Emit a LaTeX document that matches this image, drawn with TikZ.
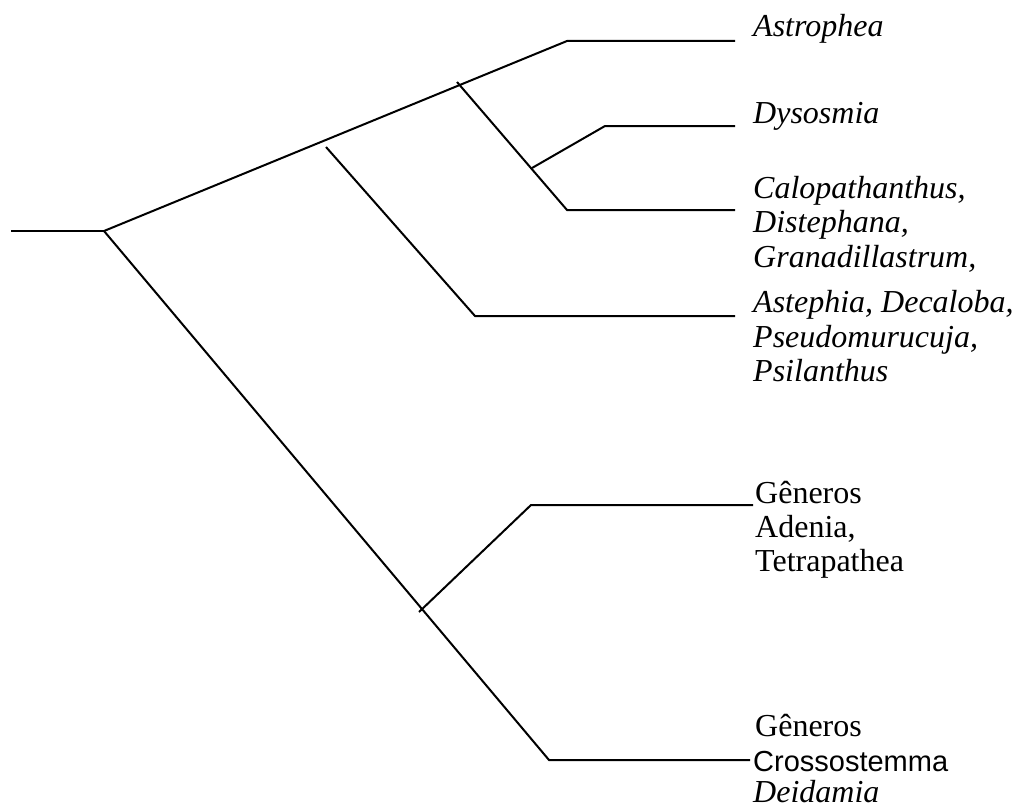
\documentclass[tikz,border=0pt]{standalone}
\usepackage{fontspec}
\setmainfont{Liberation Serif}
\setsansfont{Liberation Sans}
\begin{document}
\begin{tikzpicture}[x=1pt,y=-1pt,
  branch/.style={line width=2pt, line join=miter},
  lab/.style={anchor=base west, inner sep=0pt, font=\fontsize{32}{34.5}\selectfont}]
\useasboundingbox (0,0) rectangle (1016,808);
% junctions
\coordinate (root0) at (11,231);
\coordinate (root) at (104,231);
\coordinate (up) at (567,41);
\coordinate (upE) at (735,41);
\coordinate (low) at (549,760);
\coordinate (lowE) at (750,760);
\coordinate (aS) at (326,147);
\coordinate (aC) at (475,316);
\coordinate (aE) at (735,316);
\coordinate (bS) at (457,82);
\coordinate (bC) at (567,210);
\coordinate (bE) at (735,210);
\coordinate (cS) at (532,168);
\coordinate (cC) at (605,126);
\coordinate (cE) at (735,126);
\coordinate (dS) at (419,612);
\coordinate (dC) at (531,505);
\coordinate (dE) at (753,505);
% tree
\draw[branch] (root0) -- (root);
\draw[branch] (root) -- (up) -- (upE);
\draw[branch] (root) -- (low) -- (lowE);
\draw[branch] (aS) -- (aC) -- (aE);
\draw[branch] (bS) -- (bC) -- (bE);
\draw[branch] (cS) -- (cC) -- (cE);
\draw[branch] (dS) -- (dC) -- (dE);
% labels
\node[lab] (t1) at (753,37) {\itshape Astrophea};
\node[lab] (t2) at (753,123) {\itshape Dysosmia};
\node[lab] (t3a) at (753,198) {\itshape Calopathanthus,};
\node[lab] (t3b) at (753,232) {\itshape Distephana,};
\node[lab] (t3c) at (753,267) {\itshape Granadillastrum,};
\node[lab] (t4a) at (753,312) {\itshape Astephia, Decaloba,};
\node[lab] (t4b) at (753,347) {\itshape Pseudomurucuja,};
\node[lab] (t4c) at (753,381) {\itshape Psilanthus};
\node[lab] (t5a) at (755,503) {Gêneros};
\node[lab] (t5b) at (755,537) {Adenia,};
\node[lab] (t5c) at (755,571) {Tetrapathea};
\node[lab] (t6a) at (755,736) {Gêneros};
\node[lab] (t6b) at (753,771) {\sffamily\fontsize{29}{34.5}\selectfont Crossostemma};
\node[lab] (t6c) at (753,802) {\itshape Deidamia};
\end{tikzpicture}
\end{document}
